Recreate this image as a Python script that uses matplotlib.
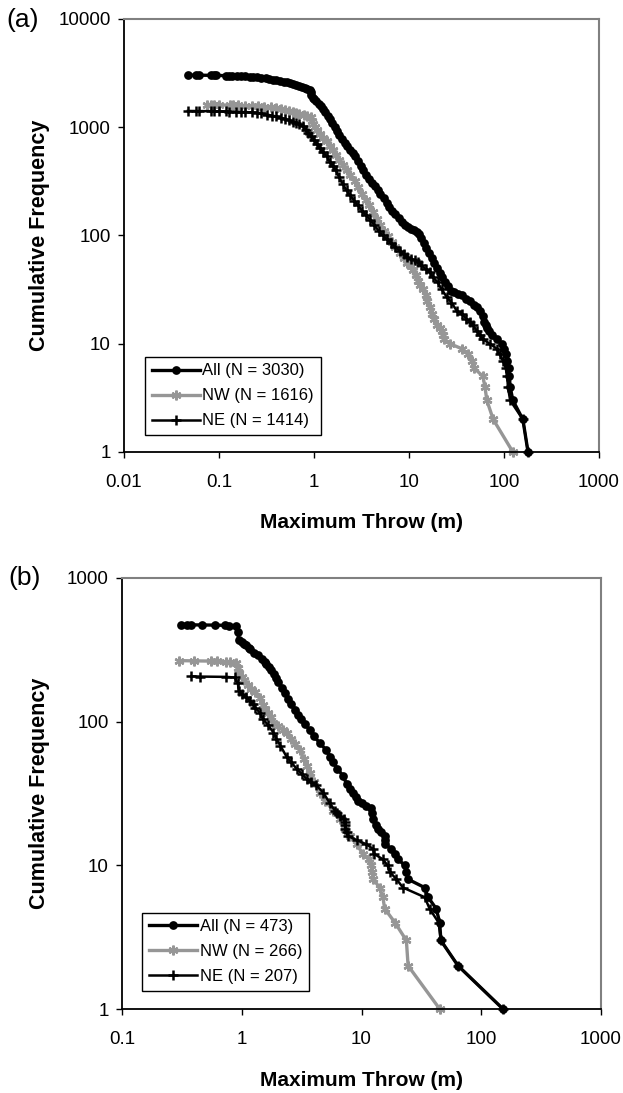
import matplotlib
matplotlib.use("Agg")
import matplotlib.pyplot as plt
from matplotlib.ticker import NullLocator

plt.rcParams['font.family'] = ['Liberation Sans', 'DejaVu Sans']

# (throw m, cumulative count)
a_all = [(0.047, 3030), (0.057, 3028), (0.061, 3025), (0.083, 3018), (0.088, 3014), (0.094, 3010),
         (0.118, 3000), (0.127, 2992), (0.138, 2985), (0.155, 2970), (0.17, 2960), (0.19, 2945),
         (0.21, 2935), (0.23, 2920), (0.25, 2900), (0.28, 2880), (0.31, 2850), (0.34, 2800),
         (0.37, 2760), (0.40, 2720), (0.44, 2680), (0.48, 2640), (0.52, 2600), (0.56, 2560),
         (0.60, 2520), (0.65, 2470), (0.70, 2420), (0.75, 2370), (0.80, 2320), (0.85, 2270),
         (0.90, 2200), (0.92, 2100), (0.94, 1980), (0.97, 1880), (1.0, 1820), (1.06, 1730),
         (1.12, 1640), (1.18, 1560), (1.25, 1470), (1.32, 1380), (1.40, 1280), (1.48, 1200),
         (1.56, 1100), (1.65, 1000), (1.75, 920), (1.85, 850), (1.96, 780), (2.1, 720),
         (2.25, 670), (2.4, 620), (2.55, 580), (2.7, 540), (2.9, 490), (3.1, 440), (3.3, 400),
         (3.55, 360), (3.8, 330), (4.1, 305), (4.4, 285), (4.7, 265), (5.0, 240), (5.4, 220),
         (5.8, 200), (6.2, 185), (6.7, 170), (7.2, 158), (7.8, 145), (8.4, 133), (9.0, 125),
         (9.7, 120), (10.4, 116), (11.2, 112), (12.0, 108), (12.8, 104), (13.5, 95), (14.3, 85),
         (15.2, 76), (16.2, 69), (17.3, 62), (18.5, 56), (19.8, 50), (21, 45), (22.5, 41),
         (24, 37), (26, 34), (28, 31), (30, 30), (33, 29), (36, 28), (40, 26), (44, 25),
         (48, 23), (52, 22), (56, 20), (60, 18), (62, 16), (64, 15), (66, 14), (70, 13),
         (75, 12), (84, 11), (95, 10), (100, 9), (104, 8), (108, 7), (112, 6), (114, 5),
         (116, 4), (124, 3), (158, 2), (179, 1)]

a_nw = [(0.074, 1616), (0.083, 1612), (0.088, 1610), (0.1, 1606), (0.13, 1601), (0.14, 1598),
        (0.16, 1590), (0.19, 1580), (0.22, 1570), (0.26, 1560), (0.30, 1545), (0.35, 1530),
        (0.40, 1507), (0.45, 1480), (0.50, 1450), (0.55, 1420), (0.60, 1390), (0.65, 1360),
        (0.70, 1330), (0.78, 1295), (0.85, 1270), (0.92, 1240), (0.95, 1150), (0.98, 1080),
        (1.02, 1010), (1.08, 940), (1.16, 870), (1.25, 800), (1.36, 740), (1.47, 670),
        (1.58, 610), (1.7, 560), (1.83, 500), (2.0, 450), (2.2, 400), (2.4, 360), (2.67, 320),
        (2.9, 280), (3.2, 240), (3.5, 215), (3.8, 190), (4.2, 165), (4.6, 142), (5.0, 125),
        (5.5, 110), (6.0, 98), (6.6, 88), (7.2, 78), (8.0, 69), (8.8, 62), (9.6, 56),
        (10.4, 52), (11.0, 48), (11.8, 43), (12.5, 38), (13.2, 35), (14.0, 32), (15.0, 28),
        (15.5, 25), (16.5, 22), (17.5, 19), (18.5, 17), (19.5, 15), (21, 14), (22, 13),
        (22.8, 12), (23.5, 11), (27, 10), (36, 9), (42, 8), (46, 7), (48, 6), (60, 5),
        (63, 4), (66, 3), (77, 2), (124, 1)]

a_ne = [(0.047, 1414), (0.057, 1412), (0.061, 1410), (0.083, 1408), (0.088, 1405), (0.1, 1402),
        (0.118, 1398), (0.127, 1395), (0.15, 1390), (0.17, 1385), (0.19, 1380), (0.22, 1375),
        (0.25, 1360), (0.28, 1340), (0.32, 1310), (0.36, 1280), (0.40, 1260), (0.45, 1220),
        (0.50, 1190), (0.55, 1160), (0.60, 1130), (0.65, 1100), (0.70, 1070), (0.77, 1020),
        (0.82, 950), (0.87, 880), (0.93, 830), (1.0, 770), (1.08, 700), (1.16, 640),
        (1.25, 590), (1.36, 540), (1.47, 480), (1.58, 440), (1.7, 400), (1.83, 350),
        (2.0, 300), (2.2, 262), (2.4, 235), (2.65, 210), (2.9, 190), (3.2, 170), (3.5, 155),
        (3.9, 140), (4.3, 125), (4.8, 110), (5.3, 100), (5.9, 92), (6.5, 85), (7.2, 78),
        (8.0, 72), (8.8, 67), (9.6, 63), (10.5, 61), (11.5, 59), (12.5, 57), (13.5, 53),
        (15, 49), (16.6, 46), (18, 41), (20, 37), (22, 32), (25, 27), (28, 24), (32, 20),
        (36, 19), (40, 17), (44, 16), (47, 15), (52, 13), (56, 12), (60, 11), (71, 10),
        (84, 9), (90, 8), (97, 7), (104, 6), (108, 5), (110, 4), (116, 3), (158, 2), (179, 1)]

b_all = [(0.31, 473), (0.35, 473), (0.38, 472), (0.47, 471), (0.60, 470), (0.73, 468), (0.78, 466),
         (0.90, 462), (0.93, 420), (0.94, 372), (1.0, 360), (1.05, 350), (1.09, 340),
         (1.14, 325), (1.18, 318), (1.26, 300), (1.36, 290), (1.47, 275), (1.55, 260),
         (1.6, 250), (1.68, 240), (1.75, 230), (1.85, 215), (1.93, 200), (2.0, 190),
         (2.15, 172), (2.3, 158), (2.45, 143), (2.6, 132), (2.8, 120), (2.95, 112), (3.1, 105),
         (3.4, 96), (3.7, 87), (4.0, 79), (4.5, 71), (5.1, 63), (5.5, 57), (5.8, 52),
         (6.3, 47), (7.0, 42), (7.5, 37), (8.0, 34), (8.5, 32), (9.0, 30), (9.4, 28),
         (10, 27), (11, 26), (12.1, 25), (12.3, 23), (12.5, 21), (13.2, 19), (13.8, 18),
         (14.5, 17), (15.6, 16), (15.7, 15), (15.8, 14), (17.8, 13), (19, 12), (20.2, 11),
         (23, 10), (23.7, 9), (24.5, 8), (33.7, 7), (36, 6), (42, 5), (45, 4), (46, 3),
         (64, 2), (152, 1)]

b_nw = [(0.30, 266), (0.40, 265), (0.55, 264), (0.62, 263), (0.74, 261), (0.80, 259),
        (0.90, 256), (0.93, 235), (0.94, 218), (1.0, 205), (1.05, 195), (1.13, 180),
        (1.2, 170), (1.3, 160), (1.42, 145), (1.5, 130), (1.55, 122), (1.65, 115),
        (1.75, 108), (1.84, 98), (2.0, 93), (2.2, 88), (2.37, 84), (2.6, 76), (2.8, 70),
        (3.06, 64), (3.3, 55), (3.5, 49), (3.7, 44), (4.0, 38), (4.5, 32), (5.0, 28),
        (5.8, 24), (6.6, 21), (7.3, 18), (8.0, 16), (9.1, 14), (10.3, 12), (11.5, 11),
        (12.1, 10), (12.3, 9), (12.5, 8), (14.2, 7), (15.1, 6), (15.6, 5), (19, 4),
        (23.7, 3), (24.5, 2), (45, 1)]

b_ne = [(0.38, 207), (0.45, 206), (0.74, 205), (0.87, 203), (0.93, 185), (0.94, 164),
        (1.0, 155), (1.09, 148), (1.17, 140), (1.24, 132), (1.3, 125), (1.42, 115),
        (1.5, 105), (1.65, 95), (1.84, 84), (1.95, 76), (2.1, 68), (2.37, 57), (2.6, 52),
        (2.87, 47), (3.2, 43), (3.48, 40), (3.8, 38), (4.2, 36), (4.8, 32), (5.45, 27),
        (6.0, 24), (6.3, 23), (6.6, 22), (7.2, 21), (7.25, 20), (7.28, 19), (7.3, 18),
        (7.5, 17), (7.7, 16), (9.1, 15), (11, 14), (12.5, 13), (12.8, 12), (15.1, 11),
        (16.5, 10), (17.2, 9), (19.6, 8), (22.2, 7), (33.7, 6), (37, 5), (44, 4), (46, 3),
        (64, 2), (152, 1)]

a_labels = ['All (N = 3030)', 'NW (N = 1616)', 'NE (N = 1414)']
b_labels = ['All (N = 473)', 'NW (N = 266)', 'NE (N = 207)']

a_xticks = [0.01, 0.1, 1, 10, 100, 1000]
a_xticklabels = ['0.01', '0.1', '1', '10', '100', '1000']
a_yticks = [1, 10, 100, 1000, 10000]
a_yticklabels = ['1', '10', '100', '1000', '10000']
b_xticks = [0.1, 1, 10, 100, 1000]
b_xticklabels = ['0.1', '1', '10', '100', '1000']
b_yticks = [1, 10, 100, 1000]
b_yticklabels = ['1', '10', '100', '1000']

GRAY = '#969696'
styles = [
    dict(color='black', lw=2.4, marker='o', ms=6.3, mew=0),
    dict(color=GRAY, lw=2.4, marker=(6, 2, 0), ms=7, mew=1.7),
    dict(color='black', lw=1.8, marker='+', ms=7, mew=1.8),
]

fig = plt.figure(figsize=(6.23, 10.93), dpi=100)


def panel(rect, series, labels, xticks, xlabels, yticks, ylabels, leg_anchor):
    ax = fig.add_axes(rect)
    for pts, lab, st in zip(series, labels, styles):
        xs = [p[0] for p in pts]
        ys = [p[1] for p in pts]
        ax.plot(xs, ys, label=lab, clip_on=False, **st)
    ax.set_xscale('log')
    ax.set_yscale('log')
    ax.set_xlim(xticks[0], xticks[-1])
    ax.set_ylim(yticks[0], yticks[-1])
    ax.set_xticks(xticks, xlabels)
    ax.set_yticks(yticks, ylabels)
    ax.xaxis.set_minor_locator(NullLocator())
    ax.yaxis.set_minor_locator(NullLocator())
    ax.tick_params(axis='both', direction='out', length=4.5, width=1.0, labelsize=13.5, colors='black')
    ax.tick_params(axis='x', pad=11)
    ax.tick_params(axis='y', pad=5)
    for s in ('left', 'bottom'):
        ax.spines[s].set_color('black')
        ax.spines[s].set_linewidth(1.3)
    for s in ('top', 'right'):
        ax.spines[s].set_color('#808080')
        ax.spines[s].set_linewidth(1.5)
    leg = ax.legend(loc='lower left', bbox_to_anchor=leg_anchor, borderaxespad=0,
                    fontsize=12, handlelength=2.9, handletextpad=0.15, labelspacing=0.6,
                    borderpad=0.4, numpoints=1, fancybox=False, framealpha=1,
                    edgecolor='black')
    leg.get_frame().set_linewidth(1.0)
    return ax


ax_a = panel([124 / 623, 1 - 452 / 1093, 475 / 623, 433 / 1093],
             [a_all, a_nw, a_ne], a_labels, a_xticks, a_xticklabels,
             a_yticks, a_yticklabels, (0.044, 0.039))
ax_b = panel([122 / 623, 1 - 1009 / 1093, 479 / 623, 431 / 1093],
             [b_all, b_nw, b_ne], b_labels, b_xticks, b_xticklabels,
             b_yticks, b_yticklabels, (0.042, 0.042))

# panel letters and axis titles
fig.text(23 / 623, 1 - 20 / 1093, '(a)', fontsize=19, ha='center', va='center')
fig.text(25 / 623, 1 - 578 / 1093, '(b)', fontsize=19, ha='center', va='center')
for yc, yl in ((523, 235.5), (1080, 793.5)):
    fig.text(361.5 / 623, 1 - yc / 1093, 'Maximum Throw (m)', fontsize=15,
             fontweight='bold', ha='center', va='center')
    fig.text(40 / 623, 1 - yl / 1093, 'Cumulative Frequency', fontsize=15.5,
             fontweight='bold', ha='center', va='center', rotation=90)

fig.savefig('out.png', dpi=100)
